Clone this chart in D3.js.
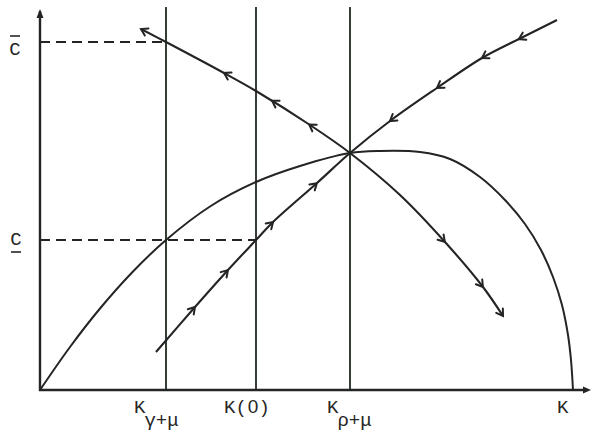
<!DOCTYPE html>
<html>
<head>
<meta charset="utf-8">
<script src="https://cdn.jsdelivr.net/npm/d3@7"></script>
<style>
  html, body { margin: 0; padding: 0; background: #fff; }
  svg { display: block; }
  text { font-family: "Liberation Mono", "DejaVu Sans Mono", monospace; fill: #262626; }
  .digit { font-family: "Liberation Sans", "DejaVu Sans", sans-serif; }
</style>
</head>
<body>
<svg id="chart" width="593" height="433"></svg>
<script>
// Capital stock levels marked on the horizontal axis
const kGammaMu = 25.2;   // K_{γ+μ}
const kZero    = 43.2;   // K(0)
const kRhoMu   = 62;     // K_{ρ+μ}
const kMax     = 106.6;  // K
// Consumption levels marked on the vertical axis
const cBar   = 69.6;     // C̄
const cUnder = 30;       // C̲

// Hump-shaped locus (k, c)
const humpK = [0, 6, 12, 18.6, 25.2, 34, 43.2, 52, 62, 68, 76, 82, 88, 93, 97, 100.2, 102.6, 104.4, 105.6, 106.2, 106.6];
const humpC = [0, 8.6, 16.3, 23.7, 30, 36.7, 41.6, 44.8, 47.4, 47.8, 47.6, 46.2, 42.6, 38, 33.2, 28, 22.6, 17, 11, 6, 0];

// Downward-sloping trajectory through the steady state
const fallK = [20.2, 25.2, 36.8, 43.2, 54, 62, 72, 81, 88.6, 92.6];
const fallC = [72.2, 69.6, 63.4, 59.8, 53, 47.4, 39, 29.6, 20.6, 14.8];

// Upward-sloping trajectory through the steady state
const riseK = [23.2, 31, 37.6, 43.2, 46.6, 55.4, 62, 70, 79.4, 88.4, 95.8, 103.4];
const riseC = [7.6, 16.6, 24, 30, 33.6, 41.4, 47.4, 53.8, 60.4, 66.4, 70.2, 74];

// Direction arrows: k position along each path, +1 = towards larger k
const fallArrowK   = [36.8, 46.4, 53.8, 81, 88.6];
const fallArrowDir = [-1, -1, -1, 1, 1];
const riseArrowK   = [31, 37.6, 46.6, 55.4, 70, 79.4, 88.4, 95.8];
const riseArrowDir = [1, 1, 1, 1, -1, -1, -1, -1];

const svg = d3.select("#chart");
const ink = "#242424";

const x = d3.scaleLinear().domain([0, 110]).range([40, 590]);
const y = d3.scaleLinear().domain([0, 76.4]).range([390, 8]);

const line = d3.line().x(d => x(d[0])).y(d => y(d[1])).curve(d3.curveCatmullRom.alpha(0.5));

// Vertical reference lines
[kGammaMu, kZero, kRhoMu].forEach(k => {
  svg.append("line")
    .attr("x1", x(k)).attr("x2", x(k))
    .attr("y1", y(0)).attr("y2", y(76.6))
    .attr("stroke", "#1f2a1f").attr("stroke-width", 1.8);
});

// Dashed guides to the consumption levels
svg.append("line")
  .attr("x1", x(0)).attr("x2", x(kGammaMu))
  .attr("y1", y(cBar)).attr("y2", y(cBar))
  .attr("stroke", ink).attr("stroke-width", 1.8).attr("stroke-dasharray", "10,6");
svg.append("line")
  .attr("x1", x(0)).attr("x2", x(kZero))
  .attr("y1", y(cUnder)).attr("y2", y(cUnder))
  .attr("stroke", ink).attr("stroke-width", 1.8).attr("stroke-dasharray", "10,6");

// Axes
svg.append("line")
  .attr("x1", x(0)).attr("x2", x(0)).attr("y1", y(0) + 1).attr("y2", y(75.8))
  .attr("stroke", ink).attr("stroke-width", 2.4);
svg.append("line")
  .attr("x1", x(0) - 1).attr("x2", x(109.4)).attr("y1", y(0)).attr("y2", y(0))
  .attr("stroke", ink).attr("stroke-width", 2.4);
// arrow tips
svg.append("path")
  .attr("d", `M${x(0)},${y(76.2)} L${x(0) - 3.5},${y(76.2) + 9} L${x(0) + 3.5},${y(76.2) + 9} Z`)
  .attr("fill", ink);
svg.append("path")
  .attr("d", `M${x(110.2)},${y(0)} L${x(110.2) - 8},${y(0) - 3.5} L${x(110.2) - 8},${y(0) + 3.5} Z`)
  .attr("fill", ink);

// Curves
const humpPath = svg.append("path")
  .attr("d", line(d3.zip(humpK, humpC)))
  .attr("fill", "none").attr("stroke", ink).attr("stroke-width", 2);
const fallPath = svg.append("path")
  .attr("d", line(d3.zip(fallK, fallC)))
  .attr("fill", "none").attr("stroke", ink).attr("stroke-width", 2.1);
const risePath = svg.append("path")
  .attr("d", line(d3.zip(riseK, riseC)))
  .attr("fill", "none").attr("stroke", ink).attr("stroke-width", 2.1);

// Sample a path and return a lookup of the point/tangent at a given pixel x
function sampler(pathSel) {
  const node = pathSel.node();
  const len = node.getTotalLength();
  const pts = d3.range(0, len + 0.5, 0.5).map(l => node.getPointAtLength(Math.min(l, len)));
  return function (px) {
    let best = 0;
    pts.forEach((p, i) => { if (Math.abs(p.x - px) < Math.abs(pts[best].x - px)) best = i; });
    const a = pts[Math.max(0, best - 4)], b = pts[Math.min(pts.length - 1, best + 4)];
    const dx = b.x - a.x, dy = b.y - a.y, n = Math.hypot(dx, dy);
    return { p: pts[best], t: [dx / n, dy / n] };
  };
}

function chevron(p, dir, size) {
  const ang = 32 * Math.PI / 180;
  const rot = (v, a) => [v[0] * Math.cos(a) - v[1] * Math.sin(a), v[0] * Math.sin(a) + v[1] * Math.cos(a)];
  const back = [-dir[0], -dir[1]];
  const a1 = rot(back, ang), a2 = rot(back, -ang);
  return `M${p.x + a1[0] * size},${p.y + a1[1] * size} L${p.x},${p.y} L${p.x + a2[0] * size},${p.y + a2[1] * size}`;
}

function drawArrows(pathSel, ks, dirs) {
  const at = sampler(pathSel);
  ks.forEach((k, i) => {
    const s = at(x(k));
    const d = dirs[i] > 0 ? s.t : [-s.t[0], -s.t[1]];
    svg.append("path").attr("d", chevron(s.p, d, 7.5))
      .attr("fill", "none").attr("stroke", ink).attr("stroke-width", 2)
      .attr("stroke-linecap", "round").attr("stroke-linejoin", "miter");
  });
}
drawArrows(fallPath, fallArrowK, fallArrowDir);
drawArrows(risePath, riseArrowK, riseArrowDir);
// outward arrowheads at both ends of the falling trajectory
drawArrows(fallPath, [fallK[0], fallK[fallK.length - 1]], [-1, 1]);

// Vertical-axis labels
svg.append("text").attr("x", 15).attr("y", y(cBar) + 13)
  .attr("text-anchor", "middle").attr("font-size", 19).text("C");
svg.append("line").attr("x1", 10).attr("x2", 20).attr("y1", y(cBar) - 6).attr("y2", y(cBar) - 6)
  .attr("stroke", "#262626").attr("stroke-width", 1.6);
svg.append("text").attr("x", 16).attr("y", y(cUnder) + 5)
  .attr("text-anchor", "middle").attr("font-size", 19).text("C");
svg.append("line").attr("x1", 11).attr("x2", 21).attr("y1", y(cUnder) + 12).attr("y2", y(cUnder) + 12)
  .attr("stroke", "#262626").attr("stroke-width", 1.6);

// Horizontal-axis labels
const axisLabels = [
  { k: kGammaMu, parts: ["K"], sub: "γ+μ", dx: -32 },
  { k: kZero,    parts: ["K(", "0", ")"], sub: "", dx: -32 },
  { k: kRhoMu,   parts: ["K"], sub: "ρ+μ", dx: -23 },
  { k: kMax,     parts: ["K"], sub: "", dx: -16 }
];
axisLabels.forEach(l => {
  const t = svg.append("text").attr("x", x(l.k) + l.dx).attr("y", 413).attr("font-size", 19);
  l.parts.forEach(p => {
    const ts = t.append("tspan").text(p);
    if (/[0-9]/.test(p)) ts.attr("class", "digit").attr("dx", 1);
  });
  if (l.sub) t.append("tspan").attr("dy", 13).attr("dx", -1).text(l.sub);
});
</script>
</body>
</html>
